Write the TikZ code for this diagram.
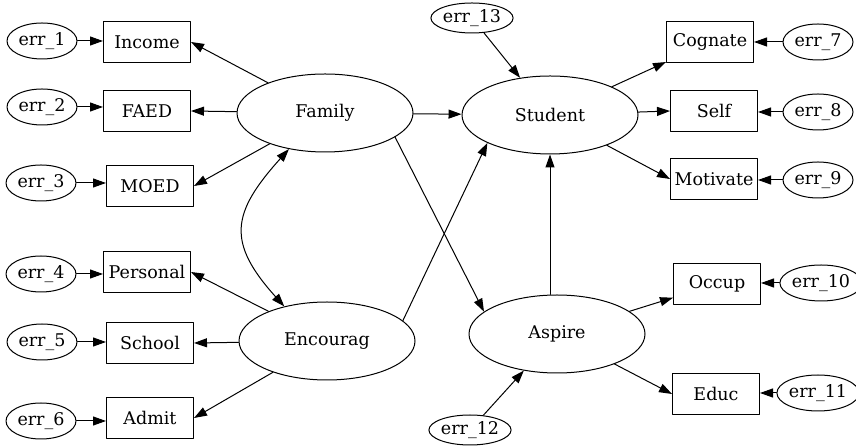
\documentclass[tikz,border=0pt]{standalone}
\usepackage{fontspec}
\setmainfont{DejaVu Serif}
\usepackage{tikz}
\usetikzlibrary{arrows.meta, shapes.geometric}
\tikzset{every node/.style={font=\fontsize{17.5}{21}\selectfont}, every path/.style={line cap=round, line join=round}, >={Triangle[length=13pt, width=9pt]}}
\tikzset{
    latent/.style={draw, ellipse, inner sep=0pt, minimum width=176pt, minimum height=78pt},
    observed/.style={draw, rectangle, inner sep=0pt, minimum width=87pt, minimum height=41pt},
    errvar/.style={draw, ellipse, inner sep=0pt, minimum width=70pt, minimum height=36pt},
    residual/.style={draw, ellipse, inner sep=0pt, minimum width=74pt, minimum height=30pt}
}

\begin{document}
\begin{tikzpicture}[x=1pt, y=1pt, line width=1pt]
    \useasboundingbox (0,0) rectangle (856,446);

    \node [latent] (fam) at (325,333) {Family};
    \node [latent] (enc) at (327,105) {Encourag};
    \node [latent] (stu) at (550,331) {Student};
    \node [latent] (asp) at (557,112) {Aspire};

    \node [observed] (inc) at (147,404) {Income};
    \node [observed] (faed) at (147,335) {FAED};
    \node [observed] (moed) at (150,260) {MOED};
    \node [observed] (per) at (147,174) {Personal};
    \node [observed] (sch) at (150,103) {School};
    \node [observed] (adm) at (150,28) {Admit};
    \node [observed] (cog) at (710,404) {Cognate};
    \node [observed] (slf) at (714,335) {Self};
    \node [observed] (mot) at (714,267) {Motivate};
    \node [observed] (occ) at (717,162) {Occup};
    \node [observed] (edu) at (716,52) {Educ};

    \node [errvar] (e1) at (42,405) {err\_1};
    \node [errvar] (e2) at (42,339) {err\_2};
    \node [errvar] (e3) at (41,263) {err\_3};
    \node [errvar] (e4) at (41,172) {err\_4};
    \node [errvar] (e5) at (42,104) {err\_5};
    \node [errvar] (e6) at (41,25) {err\_6};
    \node [errvar] (e7) at (818,404) {err\_7};
    \node [errvar] (e8) at (818,334) {err\_8};
    \node [errvar] (e9) at (818,266) {err\_9};
    \node [errvar] (e10) at (821,163) {err\_10};
    \node [errvar] (e11) at (818,53) {err\_11};
    \node [residual] (e12) at (470,16) {err\_12};
    \node [residual] (e13) at (472,428) {err\_13};

    \foreach \e/\b in {e1/inc, e2/faed, e3/moed, e4/per, e5/sch, e6/adm}
        \draw [->] (\e) -- (\e -| \b.west);
    \foreach \e/\b in {e7/cog, e8/slf, e9/mot, e10/occ, e11/edu}
        \draw [->] (\e) -- (\e -| \b.east);

    \foreach \b in {inc, faed, moed}
        \draw [->] (fam) -- (\b.east);
    \foreach \b in {per, sch, adm}
        \draw [->] (enc) -- (\b.east);

    \draw [->] (stu) -- (cog);
    \draw [->] (stu) -- (slf.west);
    \draw [->] (stu) -- (mot.west);
    \draw [->] (asp) -- (occ);
    \draw [->] (asp) -- (edu.west);

    \draw [<->] (fam.225) to [out=228, in=132, looseness=1.4] (enc.141);
    \draw [->] (fam) -- (stu);
    \draw [->] (fam.-19) -- (asp.163);
    \draw [->] (enc.15) -- (stu.204);
    \draw [->] (asp.north -| stu.south) -- (stu.south);
    \draw [->] (e13) -- (stu);
    \draw [->] (e12) -- (asp);
\end{tikzpicture}
\end{document}
